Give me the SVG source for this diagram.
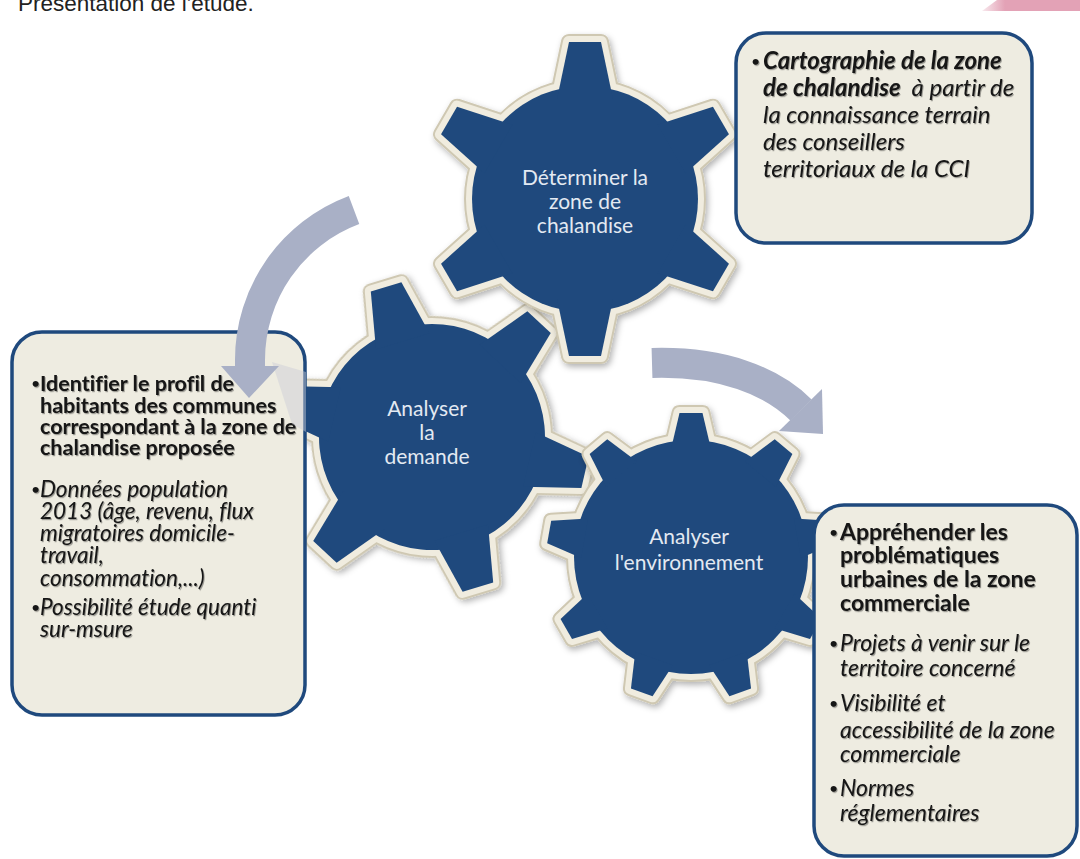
<svg xmlns="http://www.w3.org/2000/svg" xmlns:xlink="http://www.w3.org/1999/xlink" width="1080" height="859" viewBox="0 0 1080 859">
<defs>
<style>
.rim-dark{fill:#cfc8b2;stroke:#cfc8b2;stroke-width:16;stroke-linejoin:round}
.rim{fill:#f0ecdf;stroke:#f0ecdf;stroke-width:12;stroke-linejoin:round}
.gear-body{fill:#1f497d}
.gear-label{font-family:Lato,"Open Sans",sans-serif;font-size:21px;fill:#e3e9f2;text-anchor:middle}
.box{fill:#eeece1;stroke:#1f497d;stroke-width:3.5}
.txt{font-family:Lato,"Open Sans",sans-serif;fill:#141414;font-variant-ligatures:none;font-feature-settings:"liga" 0}
.bul{font-family:Lato,"Open Sans",sans-serif;fill:#141414;font-size:16px}
.b{font-weight:bold}
.i{font-style:italic}
.arrow{fill:#a9b0c6}
.arrow-line{fill:none;stroke:#a9b0c6;stroke-width:30}
</style>
<linearGradient id="pink" x1="975" y1="0" x2="1005" y2="0" gradientUnits="userSpaceOnUse">
<stop offset="0" stop-color="#e3a2b6" stop-opacity="0"/>
<stop offset="1" stop-color="#e3a2b6"/>
</linearGradient>
<filter id="gshadow" x="-20%" y="-20%" width="140%" height="140%">
<feDropShadow dx="2" dy="3" stdDeviation="3" flood-color="#000" flood-opacity="0.3"/>
</filter>
<filter id="tshadow" x="-5%" y="-10%" width="110%" height="120%">
<feDropShadow dx="1" dy="1.2" stdDeviation="0.7" flood-color="#000" flood-opacity="0.35"/>
</filter>
<g id="gearA">
<circle r="113"/>
<path id="toothA" d="M-28,-100 L-16,-157 L16,-157 L28,-100 Z"/>
<use xlink:href="#toothA" transform="rotate(60)"/>
<use xlink:href="#toothA" transform="rotate(120)"/>
<use xlink:href="#toothA" transform="rotate(180)"/>
<use xlink:href="#toothA" transform="rotate(240)"/>
<use xlink:href="#toothA" transform="rotate(300)"/>
</g>
<g id="gearB">
<circle r="117"/>
<path id="toothB" d="M-20,-108 L-11.5,-144 L11.5,-144 L20,-108 Z"/>
<use xlink:href="#toothB" transform="rotate(40)"/>
<use xlink:href="#toothB" transform="rotate(80)"/>
<use xlink:href="#toothB" transform="rotate(120)"/>
<use xlink:href="#toothB" transform="rotate(160)"/>
<use xlink:href="#toothB" transform="rotate(200)"/>
<use xlink:href="#toothB" transform="rotate(240)"/>
<use xlink:href="#toothB" transform="rotate(280)"/>
<use xlink:href="#toothB" transform="rotate(320)"/>
</g>
</defs>

<rect width="1080" height="859" fill="#ffffff"/>

<g id="header">
<text x="18" y="11" font-family="'Liberation Sans',Arial,sans-serif" font-size="22.5" fill="#222">Présentation de l'étude.</text>
<polygon points="997,0 1080,0 1080,11 982,11" fill="url(#pink)"/>
</g>

<g id="gear-demande">
<g transform="translate(432,437) rotate(-17)">
<use xlink:href="#gearA" class="rim-dark" filter="url(#gshadow)"/>
<use xlink:href="#gearA" class="rim"/>
<use xlink:href="#gearA" class="gear-body"/>
</g>
<text class="gear-label"><tspan x="427" y="416">Analyser</tspan><tspan x="427" y="440">la</tspan><tspan x="427" y="464">demande</tspan></text>
</g>

<g id="gear-zone">
<g transform="translate(585,199)">
<use xlink:href="#gearA" class="rim-dark" filter="url(#gshadow)"/>
<use xlink:href="#gearA" class="rim"/>
<use xlink:href="#gearA" class="gear-body"/>
</g>
<text class="gear-label"><tspan x="585" y="185">Déterminer la</tspan><tspan x="585" y="209">zone de</tspan><tspan x="585" y="233">chalandise</tspan></text>
</g>

<g id="gear-environnement">
<g transform="translate(691,557)">
<use xlink:href="#gearB" class="rim-dark" filter="url(#gshadow)"/>
<use xlink:href="#gearB" class="rim"/>
<use xlink:href="#gearB" class="gear-body"/>
</g>
<text class="gear-label"><tspan x="689" y="544">Analyser</tspan><tspan x="689" y="570">l'environnement</tspan></text>
</g>

<g id="box-cartographie">
<rect class="box" x="736" y="33" width="296" height="210" rx="30"/>
<g filter="url(#tshadow)">
<text class="bul" x="751" y="67">•</text>
<text class="txt" font-size="24"><tspan x="763" y="69" class="b i">Cartographie de la zone</tspan><tspan x="763" y="96" class="b i">de chalandise&#160;</tspan><tspan class="i"> à partir de</tspan><tspan x="763" y="123" class="i">la connaissance terrain</tspan><tspan x="763" y="150" class="i">des conseillers</tspan><tspan x="763" y="177" class="i">territoriaux de la CCI</tspan></text>
</g>
</g>

<g id="box-demande">
<rect class="box" x="12" y="332" width="293" height="383" rx="30"/>
<g filter="url(#tshadow)">
<text class="bul" x="31" y="389">•</text>
<text class="bul" x="31" y="495">•</text>
<text class="bul" x="31" y="613">•</text>
<text class="txt" font-size="21.5"><tspan x="40" y="391" class="b">Identifier le profil de</tspan><tspan x="40" y="413" class="b">habitants des communes</tspan><tspan x="40" y="434" class="b">correspondant à la zone de</tspan><tspan x="40" y="455" class="b">chalandise proposée</tspan><tspan x="40" y="497" class="i" font-size="22.5">Données population</tspan><tspan x="40" y="519" class="i" font-size="22.5">2013 (âge, revenu, flux</tspan><tspan x="40" y="541" class="i" font-size="22.5">migratoires domicile-</tspan><tspan x="40" y="563" class="i" font-size="22.5">travail,</tspan><tspan x="40" y="586" class="i" font-size="22.5">consommation,...)</tspan><tspan x="40" y="615" class="i" font-size="22.5">Possibilité étude quanti</tspan><tspan x="40" y="637" class="i" font-size="22.5">sur-msure</tspan></text>
</g>
</g>

<g id="box-environnement">
<rect class="box" x="814" y="505" width="263" height="351" rx="30"/>
<g filter="url(#tshadow)">
<text class="bul" x="829" y="538">•</text>
<text class="bul" x="829" y="649">•</text>
<text class="bul" x="829" y="709">•</text>
<text class="bul" x="829" y="794">•</text>
<text class="txt" font-size="23"><tspan x="840" y="540" class="b">Appréhender les</tspan><tspan x="840" y="563" class="b">problématiques</tspan><tspan x="840" y="587" class="b">urbaines de la zone</tspan><tspan x="840" y="611" class="b">commerciale</tspan><tspan x="840" y="651" class="i">Projets à venir sur le</tspan><tspan x="840" y="676" class="i">territoire concerné</tspan><tspan x="840" y="711" class="i">Visibilité et</tspan><tspan x="840" y="738" class="i">accessibilité de la zone</tspan><tspan x="840" y="762" class="i">commerciale</tspan><tspan x="840" y="796" class="i">Normes</tspan><tspan x="840" y="821" class="i">réglementaires</tspan></text>
</g>
</g>

<g id="connectors">
<path d="M272,362 L306,372 L306,432 L292,424 Z" fill="#c9cdd6" opacity="0.45"/>
<path class="arrow" d="M348.75,195.9 A175,175 0 0 0 235,360 L235,366 L221,366 L249,398 L279,366 L265,366 L265,360 A145,145 0 0 1 359.25,224.1 Z"/>
<path class="arrow-line" d="M652,363 C722,361 772,381 801,410"/>
<polygon class="arrow" points="822,389 779,431 823,434"/>
</g>
</svg>
